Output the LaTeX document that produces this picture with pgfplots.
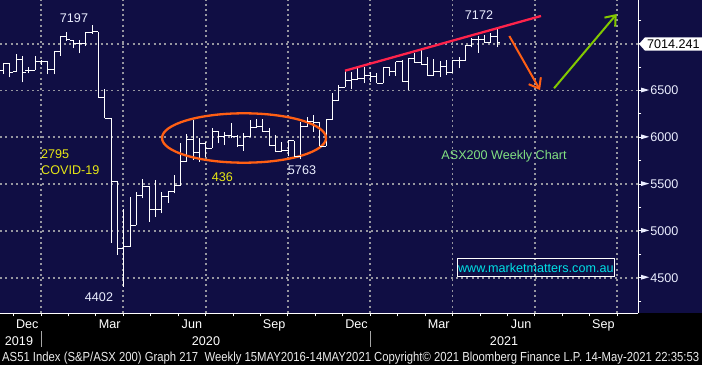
\documentclass[border=0pt]{standalone}
\usepackage{fontspec}
\setmainfont{Liberation Sans}
\usepackage{graphicx}
\usepackage{pgfplots}
\pgfplotsset{compat=1.18}
\usepackage{pgfplotstable}
\usetikzlibrary{arrows.meta}

\definecolor{navybg}{RGB}{16,14,68}
\definecolor{gridc}{RGB}{150,150,160}
\definecolor{txt}{RGB}{235,238,255}
\definecolor{ylw}{RGB}{232,232,20}
\definecolor{grn}{RGB}{130,225,130}
\definecolor{orng}{RGB}{255,95,20}
\definecolor{redl}{RGB}{255,35,75}
\definecolor{limec}{RGB}{130,200,0}
\definecolor{cyn}{RGB}{0,225,230}

\newcommand\fs{\fontsize{12.6bp}{15bp}\selectfont}
\newcommand\tri{\tikz[baseline=-2.4bp]\fill[txt](0,0)--(0,4.8bp)--(8bp,2.4bp)--cycle;\hspace{1.2bp}}
\newcommand\PX[2]{(axis cs:{(#1-3.3)/6.33},{7466.9-10.684*(#2)})}

\pgfdeclareplotmark{otick}{\pgfpathmoveto{\pgfpoint{-3.3bp}{0bp}}\pgfpathlineto{\pgfpoint{0bp}{0bp}}\pgfusepathqstroke}
\pgfdeclareplotmark{ctick}{\pgfpathmoveto{\pgfpoint{0bp}{0bp}}\pgfpathlineto{\pgfpoint{3.3bp}{0bp}}\pgfusepathqstroke}

\pgfplotstableread{
k O H L C
0 6712 6791 6676 6791
1 6791 6791 6641 6694
2 6701 6890 6701 6834
3 6834 6869 6588 6690
4 6719 6754 6684 6719
5 6719 6869 6719 6808
6 6808 6826 6772 6808
7 6808 6818 6673 6727
8 6727 6915 6673 6915
9 6915 7082 6869 7075
10 7075 7128 7032 7050
11 7032 7040 6951 7004
12 7004 7040 6897 7004
13 7004 7128 6975 7118
14 7118 7197 7104 7128
15 7128 7128 6427 6427
16 6427 6513 6203 6203
17 6203 6203 4874 5530
18 5530 5530 4743 4814
19 4814 5234 4404 4831
20 4831 5359 4831 5060
21 5060 5416 5060 5384
22 5384 5551 5348 5480
23 5480 5480 5098 5231
24 5231 5544 5152 5231
25 5231 5419 5188 5373
26 5373 5419 5301 5419
27 5419 5597 5402 5490
28 5490 5936 5490 5739
29 5739 6035 5739 5982
30 5982 6185 5758 5836
31 5836 5989 5739 5936
32 5936 5953 5793 5883
33 5883 6096 5883 6060
34 6060 6070 5936 6006
35 6006 6060 5918 6025
36 6025 6150 5989 6014
37 6014 6025 5900 5918
38 5918 6049 5857 6006
39 6006 6185 6000 6107
40 6107 6192 6107 6113
41 6113 6192 6060 6060
42 6060 6096 5918 5918
43 5918 6025 5846 5846
44 5846 5953 5846 5857
45 5857 5971 5800 5964
46 5964 5964 5793 5793
47 5793 6167 5763 6113
48 6113 6220 6113 6167
49 6167 6238 6060 6156
50 6156 6167 5907 5907
51 5907 6192 5907 6192
52 6192 6470 6185 6399
53 6399 6559 6399 6534
54 6534 6712 6534 6612
55 6612 6701 6513 6620
56 6620 6754 6620 6630
57 6630 6754 6577 6666
58 6666 6701 6594 6655
59 6655 6690 6577 6577
60 6577 6748 6577 6748
61 6748 6748 6655 6701
62 6701 6808 6655 6808
63 6808 6826 6594 6594
64 6594 6844 6505 6844
65 6844 6897 6797 6797
66 6797 6933 6772 6780
67 6780 6855 6666 6666
68 6666 6833 6655 6701
69 6701 6818 6647 6754
70 6754 6826 6666 6690
71 6690 6826 6684 6818
72 6818 6861 6737 6818
73 6818 6986 6818 6986
74 6986 7058 6962 7047
75 7047 7082 6904 7047
76 7047 7093 7011 7011
77 7011 7111 7011 7075
78 7075 7172 6962 7014.241
}\ohlc

\begin{document}
\begin{tikzpicture}
\fill[black] (0,-52bp) rectangle (702bp,313bp);
\fill[navybg] (0,0) rectangle (702bp,313bp);
\begin{axis}[
  at={(0,0)}, anchor=south west, scale only axis,
  width=638bp, height=313bp,
  xmin=-0.5213, xmax=100.268, ymin=4122.8, ymax=7466.9,
  axis x line*=bottom, axis y line*=right,
  axis line style={white, line width=1bp, -},
  clip=false,
  tick align=outside,
  xtick={5.956,18.958,31.959,44.961,57.962,70.964,83.966,96.967},
  minor xtick={1.622,10.290,14.624,23.292,27.626,36.294,40.628,49.296,53.630,62.298,66.632,75.300,79.634,88.302,92.636},
  xticklabels={},
  xticklabel style={inner sep=0pt},
  ytick={4500,5000,5500,6000,6500,7000},
  minor ytick={4250,4750,5250,5750,6250,6750,7250},
  yticklabels={\tri 4500,\tri 5000,\tri 5500,\tri 6000,\tri 6500,{}},
  yticklabel style={anchor=west, inner sep=0pt, text=txt, font=\fs},
  major tick length=3bp, minor tick length=3.3bp,
  every tick/.style={white, line width=0.9bp},
  xmajorgrids, ymajorgrids,
  major grid style={gridc, line width=1.8bp, dash pattern=on 2bp off 3.3bp},
]
% high-low ranges
\addplot[draw=none, mark=none, forget plot,
  error bars/.cd, y dir=plus, y explicit, error mark=none,
  error bar style={draw=white, line width=0.75bp, solid}]
  table[x=k, y=L, y error expr=\thisrow{H}-\thisrow{L}] {\ohlc};
% open and close ticks
\addplot[only marks, mark=otick, mark options={draw=white, line width=0.75bp}] table[x=k, y=O] {\ohlc};
\addplot[only marks, mark=ctick, mark options={draw=white, line width=0.75bp}] table[x=k, y=C] {\ohlc};

% trend line and arrows
\addplot[redl, line width=2.3bp] coordinates {(53.98,6711.5) (84.94,7296)};
\addplot[orng, line width=2bp, -{Straight Barb[length=9bp, width=14bp]}] coordinates {(79.94,7082.3) (84.79,6505.3)};
\addplot[limec, line width=2bp, -{Straight Barb[length=9bp, width=14bp]}] coordinates {(87.0,6523.5) (96.9,7317.3)};

% ellipse
\draw[orng, line width=2.3bp] \PX{244}{138} ellipse [x radius=82bp, y radius=24.7bp];

% annotations
\node[font=\fs, text=txt, inner sep=0] at \PX{74}{18} {7197};
\node[font=\fs, text=txt, inner sep=0] at \PX{99}{297.5} {4402};
\node[font=\fs, text=ylw, inner sep=0, anchor=west] at \PX{41}{154.5} {2795};
\node[font=\fs, text=ylw, inner sep=0, anchor=west] at \PX{41}{170.5} {COVID-19};
\node[font=\fs, text=ylw, inner sep=0] at \PX{222.5}{177} {436};
\node[font=\fs, text=txt, inner sep=0] at \PX{302}{170} {5763};
\node[font=\fs, text=txt, inner sep=0] at \PX{479}{15.3} {7172};
\node[font=\fs, text=grn, inner sep=0] at \PX{504}{156.5} {ASX200 Weekly Chart};
\node[font=\fs, text=cyn, draw=white, line width=1bp, inner sep=0, minimum width=157bp, minimum height=18.4bp] at \PX{535.8}{267.5} {www.marketmatters.com.au};

% last value label
\fill[white] \PX{639}{44} -- \PX{645}{37.3} -- \PX{702}{37.3} -- \PX{702}{50.7} -- \PX{645}{50.7} -- cycle;
\node[font=\fs, text=black, inner sep=0, anchor=base west] at \PX{647}{48.3} {7014.241};

% x axis labels
\node[font=\fs, text=white, inner sep=0, anchor=base] at \PX{27.3}{329} {Dec};
\node[font=\fs, text=white, inner sep=0, anchor=base] at \PX{109.6}{329} {Mar};
\node[font=\fs, text=white, inner sep=0, anchor=base] at \PX{191.9}{329} {Jun};
\node[font=\fs, text=white, inner sep=0, anchor=base] at \PX{274.2}{329} {Sep};
\node[font=\fs, text=white, inner sep=0, anchor=base] at \PX{356.5}{329} {Dec};
\node[font=\fs, text=white, inner sep=0, anchor=base] at \PX{438.8}{329} {Mar};
\node[font=\fs, text=white, inner sep=0, anchor=base] at \PX{521.1}{329} {Jun};
\node[font=\fs, text=white, inner sep=0, anchor=base] at \PX{603.4}{329} {Sep};
\node[font=\fs, text=white, inner sep=0, anchor=base] at \PX{19}{345.3} {2019};
\node[font=\fs, text=white, inner sep=0, anchor=base] at \PX{206}{345.3} {2020};
\node[font=\fs, text=white, inner sep=0, anchor=base] at \PX{504}{345.3} {2021};
\draw[gray!70, line width=0.8bp] \PX{41.7}{331.5} -- \PX{41.7}{347.5};
\draw[gray!70, line width=0.8bp] \PX{370.2}{331.5} -- \PX{370.2}{347.5};

% footer
\node[text=white!92!black, inner sep=0, anchor=base west] at \PX{2}{361.5}
  {\resizebox{697bp}{9.5bp}{AS51 Index (S\&P/ASX 200) Graph 217\ \ Weekly 15MAY2016-14MAY2021 Copyright\textcopyright\ 2021 Bloomberg Finance L.P. 14-May-2021 22:35:53}};
\end{axis}
\pgfresetboundingbox
\useasboundingbox (0,-52bp) rectangle (702bp,313bp);
\end{tikzpicture}
\end{document}
